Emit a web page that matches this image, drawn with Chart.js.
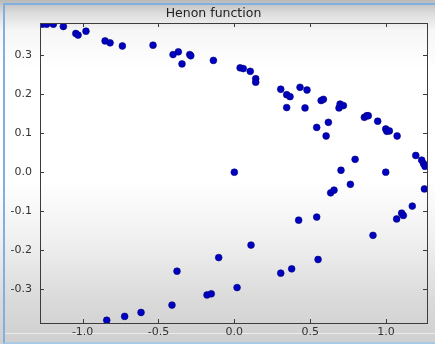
<!DOCTYPE html>
<html>
<head>
<meta charset="utf-8">
<script src="https://cdn.jsdelivr.net/npm/chart.js@4.4.1/dist/chart.umd.min.js"></script>
<style>
  html, body { margin: 0; padding: 0; }
  body {
    width: 435px; height: 344px; overflow: hidden; position: relative;
    background: linear-gradient(to bottom, #b9b9b9 0px, #dedede 14px, #f6f6f6 30px, #ffffff 70px, #ffffff 180px, #f0f0f0 240px, #dadada 300px, #cfcfcf 344px);
  }
  #marco {
    position: absolute; left: 3px; top: 3px; width: 440px; height: 337px;
    border-left: 2px solid #7fb0e0; border-top: 2px solid #7fb0e0; border-bottom: 2px solid #a9c8e6;
    pointer-events: none;
  }
  #linea { position: absolute; left: 5px; right: 0; top: 333px; height: 1px; background: #ececec; }
  canvas { position: absolute; left: 0; top: 0; }
</style>
</head>
<body>
<div id="marco"></div>
<div id="linea"></div>
<canvas id="grafico-henon" width="435" height="344"></canvas>
<script>
// Puntos (x, y)
const valoresX = [
    -1.266, -1.237, -1.193, -1.127, -1.045, -1.030, -0.978, -0.852, -0.819, -0.738,
    -0.536, -0.404, -0.369, -0.345, -0.294, -0.287, -0.138, 0.038, 0.059, 0.105,
    0.141, 0.141, 0.306, 0.345, 0.367, 0.345, 0.433, 0.479, 0.466, 0.572,
    0.587, 0.697, 0.719, 0.690, 0.857, 0.873, 0.883, 0.945, 0.998, 1.005,
    1.022, 1.073, 0.543, 0.620, 0.605, 1.196, 1.235, 1.247, 1.257, 1.253,
    0.998, 0.796, 0.703, 0.765, 0.635, 0.657, 0.000, 1.173, 1.103, 1.114,
    1.070, 0.424, 0.543, 0.914, 0.110, -0.103, -0.378, 0.552, 0.306, 0.378,
    -0.180, -0.152, 0.018, -0.411, -0.615, -0.723, -0.841
];
const valoresY = [
    0.380, 0.380, 0.380, 0.374, 0.356, 0.352, 0.362, 0.337, 0.332, 0.324,
    0.326, 0.302, 0.309, 0.278, 0.302, 0.299, 0.287, 0.268, 0.266, 0.259,
    0.240, 0.231, 0.213, 0.199, 0.194, 0.166, 0.218, 0.211, 0.165, 0.184,
    0.187, 0.175, 0.171, 0.165, 0.141, 0.145, 0.145, 0.131, 0.111, 0.105,
    0.106, 0.093, 0.115, 0.128, 0.093, 0.043, 0.031, 0.022, 0.015, -0.043,
    0.000, 0.033, 0.005, -0.031, -0.053, -0.046, 0.000, -0.087, -0.105, -0.111,
    -0.120, -0.123, -0.115, -0.162, -0.187, -0.219, -0.254, -0.224, -0.259, -0.248,
    -0.315, -0.312, -0.296, -0.341, -0.360, -0.370, -0.380
];

// Marcas de los ejes
const ticksX = [-1.0, -0.5, 0.0, 0.5, 1.0];
const ticksY = [-0.3, -0.2, -0.1, 0.0, 0.1, 0.2, 0.3];

const puntos = valoresX.map((x, i) => ({ x: x, y: valoresY[i] }));

function formatoTick(v) {
    return v.toFixed(1);
}

// Marco y marcas hacia adentro, estilo matplotlib
const marcoPlugin = {
    id: 'marcoEjes',
    afterDraw(chart) {
        const { ctx, chartArea: a, scales } = chart;
        ctx.save();
        ctx.strokeStyle = '#3c3c3c';
        ctx.lineWidth = 1;
        ctx.strokeRect(Math.round(a.left) + 0.5, Math.round(a.top) + 0.5,
            Math.round(a.right - a.left), Math.round(a.bottom - a.top));
        const largo = 4;
        ctx.beginPath();
        ticksX.forEach(v => {
            const px = Math.round(scales.x.getPixelForValue(v)) + 0.5;
            ctx.moveTo(px, a.bottom); ctx.lineTo(px, a.bottom - largo);
            ctx.moveTo(px, a.top); ctx.lineTo(px, a.top + largo);
        });
        ticksY.forEach(v => {
            const py = Math.round(scales.y.getPixelForValue(v)) + 0.5;
            ctx.moveTo(a.left, py); ctx.lineTo(a.left + largo, py);
            ctx.moveTo(a.right, py); ctx.lineTo(a.right - largo, py);
        });
        ctx.stroke();
        ctx.restore();
    }
};

const fuente = { family: 'DejaVu Sans', size: 11 };

new Chart(document.getElementById('grafico-henon'), {
    type: 'scatter',
    data: {
        datasets: [{
            data: puntos,
            backgroundColor: '#0000c0',
            borderColor: '#000078',
            borderWidth: 0.6,
            pointRadius: 3.4,
            clip: 0
        }]
    },
    options: {
        responsive: false,
        devicePixelRatio: 1,
        animation: false,
        layout: { padding: { left: 0, right: 8, top: 0, bottom: 0 } },
        plugins: {
            legend: { display: false },
            tooltip: { enabled: false },
            title: {
                display: true,
                text: 'Henon function',
                color: '#222',
                font: { family: 'DejaVu Sans', size: 12.5, weight: 'normal' },
                padding: { top: 6, bottom: 2 }
            }
        },
        scales: {
            x: {
                type: 'linear',
                min: -1.281,
                max: 1.27,
                afterFit(scale) { scale.height = 21; },
                afterBuildTicks(scale) { scale.ticks = ticksX.map(v => ({ value: v })); },
                grid: { display: false, drawTicks: false },
                border: { display: false },
                ticks: { color: '#333', font: fuente, padding: 3, callback: formatoTick, maxRotation: 0 }
            },
            y: {
                type: 'linear',
                min: -0.387,
                max: 0.383,
                afterFit(scale) { scale.width = 40; },
                afterBuildTicks(scale) { scale.ticks = ticksY.map(v => ({ value: v })); },
                grid: { display: false, drawTicks: false },
                border: { display: false },
                ticks: { color: '#333', font: fuente, padding: 8, callback: formatoTick }
            }
        }
    },
    plugins: [marcoPlugin]
});
</script>
</body>
</html>
